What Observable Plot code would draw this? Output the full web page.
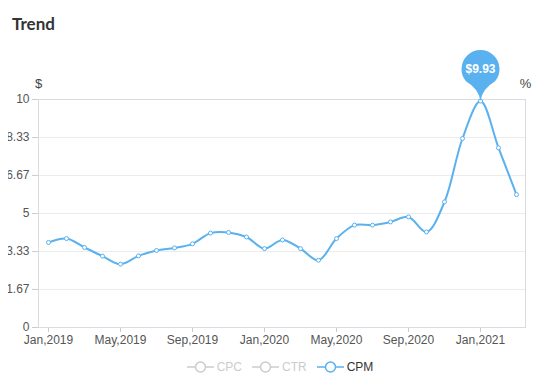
<!DOCTYPE html>
<html>
<head>
<meta charset="utf-8">
<script src="https://cdn.jsdelivr.net/npm/d3@7"></script>
<script src="https://cdn.jsdelivr.net/npm/@observablehq/plot@0.6"></script>
<style>
  html, body { margin: 0; padding: 0; background: #fff; }
  body { width: 558px; height: 391px; overflow: hidden; font-family: "Liberation Sans", Arial, sans-serif; }
  #title { height: 40px; position: relative; }
  #title span { position: absolute; left: 12px; top: 13px; font: 700 17px Lato, "Open Sans", sans-serif; color: #333; }
  #chart { margin-left: 8px; width: 550px; }
  #chart svg { display: block; overflow: hidden; }
  #chart g[aria-label^="x-axis"] text, #chart g[aria-label^="y-axis"] text { fill: #555; }
  #chart g[aria-label^="x-axis"], #chart g[aria-label^="y-axis"] { color: #ccc; }
  #legend { height: 24px; display: flex; justify-content: center; align-items: center; font-size: 12px; padding-left: 2px; }
  #legend .item { display: flex; align-items: center; margin: 0 5px; }
  #legend svg { display: block; margin-right: 3px; }
</style>
</head>
<body>
<div id="title"><span>Trend</span></div>
<div id="chart"></div>
<div id="legend"></div>
<script>
const months = [
  "Jan,2019","Feb,2019","Mar,2019","Apr,2019","May,2019","Jun,2019","Jul,2019","Aug,2019","Sep,2019","Oct,2019","Nov,2019","Dec,2019",
  "Jan,2020","Feb,2020","Mar,2020","Apr,2020","May,2020","Jun,2020","Jul,2020","Aug,2020","Sep,2020","Oct,2020","Nov,2020","Dec,2020",
  "Jan,2021","Feb,2021","Mar,2021"
];
const cpm = [
  3.73, 3.90, 3.51, 3.13, 2.78, 3.14, 3.38, 3.49, 3.67, 4.14, 4.17, 3.97,
  3.46, 3.84, 3.46, 2.95, 3.90, 4.49, 4.49, 4.63, 4.85, 4.19, 5.51, 8.29,
  9.93, 7.88, 5.83
];
const xTicks = ["Jan,2019","May,2019","Sep,2019","Jan,2020","May,2020","Sep,2020","Jan,2021"];
const yTicks = [0, 1.67, 3.33, 5, 6.67, 8.33, 10];
const yTickLabels = ["0", "1.67", "3.33", "5", "6.67", "8.33", "10"];
const seriesNames = ["CPC", "CTR", "CPM"];
const activeSeries = "CPM";
const leftUnit = "$";
const rightUnit = "%";

const blue = "#5ab1ef";
const data = months.map((m, i) => ({month: m, cpm: cpm[i]}));
const peak = data.reduce((a, b) => (b.cpm > a.cpm ? b : a));

const pinH = 32, pinR = 19;
const pinSymbol = {
  draw(ctx) {
    const a1 = 140 * Math.PI / 180, a2 = 40 * Math.PI / 180;
    ctx.moveTo(0, 0);
    ctx.quadraticCurveTo(-1.5, -12, pinR * Math.cos(a1), -pinH + pinR * Math.sin(a1));
    ctx.arc(0, -pinH, pinR, a1, a2 + 2 * Math.PI, false);
    ctx.quadraticCurveTo(1.5, -12, 0, 0);
    ctx.closePath();
  }
};

const chart = Plot.plot({
  width: 550,
  height: 315,
  marginTop: 59,
  marginBottom: 28,
  marginLeft: 30,
  marginRight: 33,
  style: {fontSize: "12px", fontFamily: "'Liberation Sans', Arial, sans-serif", background: "#fff"},
  x: {type: "point", domain: months, padding: 0.5, ticks: xTicks, tickSize: 5, tickPadding: 3, label: null},
  y: {domain: [0, 10], ticks: yTicks, tickFormat: d => yTickLabels[yTicks.indexOf(d)], tickSize: 6, tickPadding: 3, label: null},
  marks: [
    Plot.ruleY(yTicks, {stroke: "#ebebeb"}),
    Plot.frame({stroke: "#d9dbe3"}),
    Plot.lineY(data, {x: "month", y: "cpm", curve: "catmull-rom", stroke: blue, strokeWidth: 2}),
    Plot.dot(data, {x: "month", y: "cpm", r: 2, fill: "#fff", stroke: blue, strokeWidth: 1}),
    Plot.dot([peak], {x: "month", y: "cpm", symbol: pinSymbol, r: 5, fill: blue, stroke: "none"}),
    Plot.text([peak], {x: "month", y: "cpm", text: d => "$" + d.cpm.toFixed(2), dy: -pinH, fill: "#fff", fontWeight: "bold", fontSize: 12}),
    Plot.text([leftUnit], {frameAnchor: "top-left", text: d => d, dy: -21, fill: "#444", fontSize: 13, textAnchor: "middle"}),
    Plot.text([rightUnit], {frameAnchor: "top-right", text: d => d, dy: -21, fill: "#444", fontSize: 13, textAnchor: "middle"})
  ]
});
document.getElementById("chart").appendChild(chart);

const legend = document.getElementById("legend");
for (const name of seriesNames) {
  const on = name === activeSeries;
  const c = on ? blue : "#ccc";
  const item = document.createElement("div");
  item.className = "item";
  item.innerHTML = `<svg width="27" height="14"><line x1="0" y1="7" x2="27" y2="7" stroke="${c}" stroke-width="1.5"/><circle cx="13.5" cy="7" r="5" fill="#fff" stroke="${c}" stroke-width="1.5"/></svg><span style="color:${on ? '#333' : '#ccc'}">${name}</span>`;
  legend.appendChild(item);
}
</script>
</body>
</html>
